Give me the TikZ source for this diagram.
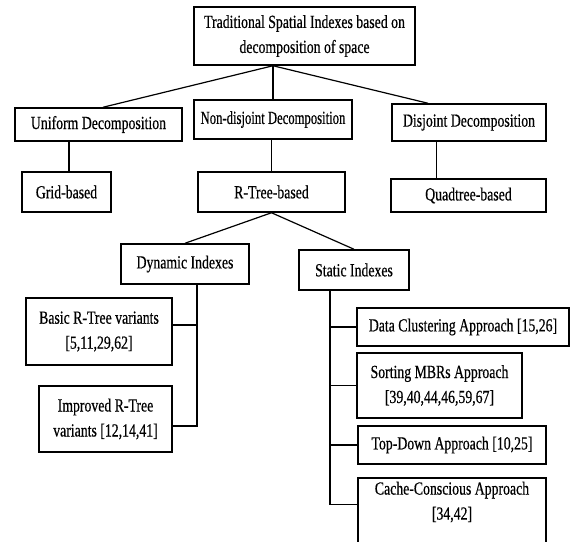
\documentclass[tikz,border=0pt]{standalone}
\usepackage{fontspec}
\setmainfont[FakeStretch=0.745,FakeBold=0.5]{Liberation Serif}
\usepackage{tikz}

\begin{document}
\begin{tikzpicture}[x=1pt, y=-1pt,
  box/.style={draw, line width=1.5pt, inner sep=0pt, align=center,
    font=\fontsize{18.5}{25}\selectfont},
  link/.style={line width=1.2pt}]
  \useasboundingbox (0,0) rectangle (570,541);

  % levels 1 to 3
  \node[box, minimum width=221, minimum height=58] (root) at (304.5,36)
    {Traditional Spatial Indexes based on\\decomposition of space};
  \node[box, minimum width=167, minimum height=33] (unif) at (98.5,124.5) {Uniform Decomposition};
  \node[box, minimum width=158, minimum height=39] (nondis) at (273,119.5)
    {\scalebox{0.92}[1]{Non-disjoint Decomposition}};
  \node[box, minimum width=154, minimum height=37] (disj) at (469,122.5) {Disjoint Decomposition};
  \node[box, minimum width=89, minimum height=40] (grid) at (66.5,192) {Grid-based};
  \node[box, minimum width=147, minimum height=40] (rtree) at (271.5,192) {R-Tree-based};
  \node[box, minimum width=155, minimum height=33] (quad) at (468.5,195.5) {Quadtree-based};

  % R-Tree family
  \node[box, minimum width=128, minimum height=40] (dyn) at (185,264) {Dynamic Indexes};
  \node[box, minimum width=110, minimum height=40] (stat) at (354,270) {Static Indexes};
  \node[box, minimum width=146, minimum height=67] (basic) at (99,331.5)
    {Basic R-Tree variants\\{}[5,11,29,62]};
  \node[box, minimum width=133, minimum height=66] (impr) at (105.5,419)
    {Improved R-Tree\\variants [12,14,41]};
  \node[box, minimum width=212, minimum height=38] (data) at (463,327) {Data Clustering Approach [15,26]};
  \node[box, minimum width=165, minimum height=65] (sort) at (439.5,385.5)
    {Sorting MBRs Approach\\{}[39,40,44,46,59,67]};
  \node[box, minimum width=188, minimum height=38] (top) at (452,445) {Top-Down Approach [10,25]};
  \node[box, minimum width=188, anchor=north, inner ysep=4pt, text depth=40pt] (cache) at (452,477)
    {Cache-Conscious Approach\\{}[34,42]};

  % connectors
  \coordinate (rfoot) at (root.south -| nondis.north);
  \draw[link] ([xshift=4.5]unif.north) -- (rfoot) -- ([xshift=-41]disj.north);
  \draw[link] (rfoot) -- (nondis.north);
  \draw[link] ([xshift=2.5]grid.north) -- ([xshift=2.5]grid.north |- unif.south);
  \draw[link] (rtree.north) -- (rtree.north |- nondis.south);
  \coordinate (qtop) at ([xshift=-32]quad.north);
  \draw[link] (qtop) -- (qtop |- disj.south);
  \draw[link] (dyn.north) -- (rtree.south) -- (stat.north);

  \coordinate (dtop) at ([xshift=12]dyn.south);
  \draw[link] (dtop) |- ([yshift=-7]impr.east);
  \draw[link] ([yshift=6.5]basic.east) -- ++(25,0);

  \coordinate (stop) at ([xshift=-24]stat.south);
  \draw[link] (stop) |- ([yshift=16]cache.west);
  \foreach \b in {data,sort,top}
    \draw[link] (\b.west) -- (\b.west -| stop);
\end{tikzpicture}
\end{document}
